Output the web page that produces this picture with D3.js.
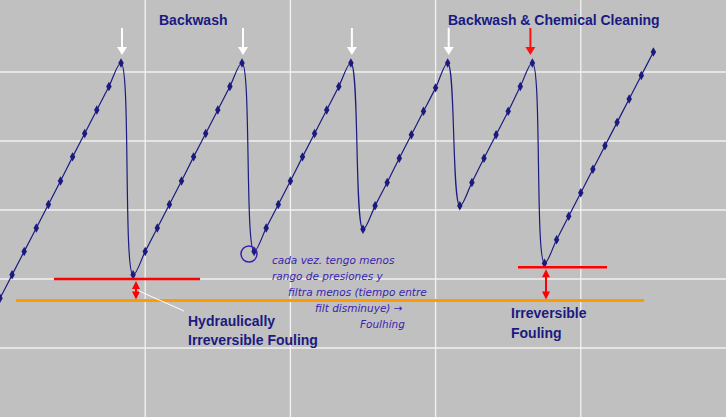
<!DOCTYPE html>
<html><head><meta charset="utf-8">
<script src="https://cdn.jsdelivr.net/npm/d3@7"></script>
<style>body{margin:0;background:#c0c0c0}svg{display:block}</style>
</head><body><svg id="c" width="726" height="417"></svg>
<script>
// Pressure (arbitrary units) at equally spaced sample index
const sampleIndex = d3.range(0, 55);
const pressure = [
 0.72,1.06,1.40,1.74,2.08,2.42,2.77,3.11,3.45,3.79,4.13, // cycle 1 rise
 1.06,1.40,1.74,2.08,2.42,2.77,3.11,3.45,3.79,4.13,      // min + cycle 2
 1.40,1.74,2.08,2.42,2.77,3.11,3.45,3.79,4.13,           // cycle 3
 1.72,2.06,2.40,2.75,3.09,3.43,3.77,4.13,                // cycle 4
 2.06,2.40,2.75,3.09,3.43,3.79,4.13,                     // cycle 5
 1.23,1.57,1.91,2.25,2.59,2.93,3.27,3.61,3.95,4.29       // after chemical cleaning
];
const xGrid = [12,24,36,48];
const yGrid = [0,1,2,3,4];
const peaksBackwash = [10,20,29,37];
const peakChemical = [44];
const hydraulicLevel = 1.0, irreversibleLevel = 0.69, chemLevel = 1.17;

const svg = d3.select("#c");
const x = d3.scaleLinear().domain([0,60]).range([0,726]);
const y = d3.scaleLinear().domain([-1,5]).range([417,3]);
const navy = "#1a1a80";

svg.append("rect").attr("width",726).attr("height",417).attr("fill","#c0c0c0");
svg.selectAll(".gx").data(xGrid).join("line").attr("x1",d=>x(d)).attr("x2",d=>x(d))
  .attr("y1",0).attr("y2",417).attr("stroke","#f2f2f2").attr("stroke-width",1.3);
svg.selectAll(".gy").data(yGrid).join("line").attr("y1",d=>y(d)).attr("y2",d=>y(d))
  .attr("x1",0).attr("x2",726).attr("stroke","#f2f2f2").attr("stroke-width",1.3);

const data = sampleIndex.map((i,k)=>({i, v:pressure[k]}));
svg.append("path").datum(data).attr("fill","none").attr("stroke",navy).attr("stroke-width",1.2)
  .attr("d", d3.line().x(d=>x(d.i)).y(d=>y(d.v)).curve(d3.curveCatmullRom.alpha(0.5)));
svg.selectAll(".pt").data(data).join("path")
  .attr("d", d3.symbol(d3.symbolDiamond, 26)).attr("fill",navy)
  .attr("transform", d=>`translate(${x(d.i)},${y(d.v)})`);

// arrows
function arrowDown(xp, y1, y2, col){
  svg.append("line").attr("x1",xp).attr("x2",xp).attr("y1",y1).attr("y2",y2-6).attr("stroke",col).attr("stroke-width",2);
  svg.append("path").attr("d",`M${xp-5},${y2-8}L${xp+5},${y2-8}L${xp},${y2}Z`).attr("fill",col);
}
peaksBackwash.forEach(i=>arrowDown(x(i)+1, 28, 55, "#ffffff"));
peakChemical.forEach(i=>arrowDown(x(i)-2, 28, 55, "#ff1010"));

// level lines
svg.append("line").attr("x1",16).attr("x2",644).attr("y1",y(irreversibleLevel)).attr("y2",y(irreversibleLevel)).attr("stroke","#ff9a00").attr("stroke-width",3);
svg.append("line").attr("x1",54).attr("x2",200).attr("y1",y(hydraulicLevel)).attr("y2",y(hydraulicLevel)).attr("stroke","#ff0000").attr("stroke-width",2.5);
svg.append("line").attr("x1",518).attr("x2",607).attr("y1",y(chemLevel)).attr("y2",y(chemLevel)).attr("stroke","#ff0000").attr("stroke-width",2.5);
function dbl(xp, y1, y2){
  svg.append("line").attr("x1",xp).attr("x2",xp).attr("y1",y1+4).attr("y2",y2-4).attr("stroke","#ff0000").attr("stroke-width",2);
  svg.append("path").attr("d",`M${xp-4},${y1+8}L${xp+4},${y1+8}L${xp},${y1}Z`).attr("fill","#ff0000");
  svg.append("path").attr("d",`M${xp-4},${y2-8}L${xp+4},${y2-8}L${xp},${y2}Z`).attr("fill","#ff0000");
}
dbl(136, y(hydraulicLevel)+2, y(irreversibleLevel)-1);
dbl(546, y(chemLevel)+2, y(irreversibleLevel)-1);
svg.append("line").attr("x1",139).attr("x2",184).attr("y1",291).attr("y2",311).attr("stroke","#ffffff").attr("stroke-width",1);

// labels
const lbl = (t,xp,yp)=>svg.append("text").attr("x",xp).attr("y",yp).text(t)
  .attr("font-family","Liberation Sans, Arial, sans-serif").attr("font-weight","bold").attr("font-size",14).attr("fill",navy);
lbl("Backwash",159,25);
lbl("Backwash & Chemical Cleaning",448,25);
lbl("Hydraulically",188,326);
lbl("Irreversible Fouling",188,345);
lbl("Irreversible",511,318);
lbl("Fouling",511,338);

// handwritten note
const hand = "#3a1fb0";
svg.append("circle").attr("cx",249).attr("cy",254).attr("r",8).attr("fill","none").attr("stroke",hand).attr("stroke-width",1.5);
const notes = [["cada vez. tengo menos",272,264],["rango de presiones y",272,280],["filtra menos (tiempo entre",288,296],["filt disminuye) →",315,312],["Foulhing",360,328]];
notes.forEach(([t,xp,yp])=>svg.append("text").attr("x",xp).attr("y",yp).text(t)
  .attr("font-family","DejaVu Sans, sans-serif").attr("font-style","italic").attr("font-size",10.5).attr("fill",hand));
</script></body></html>
